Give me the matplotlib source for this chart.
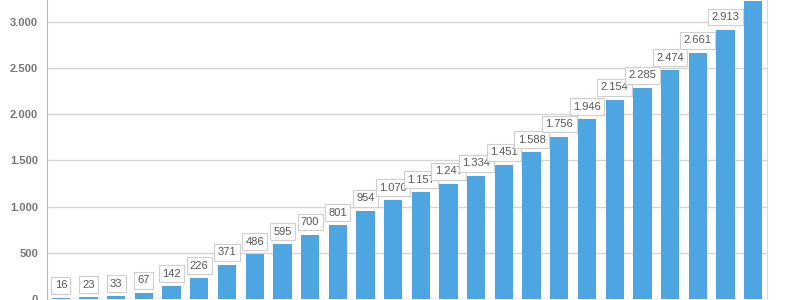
import matplotlib.pyplot as plt
from matplotlib.ticker import FuncFormatter

# Cumulative counts per period (last bar is cut off at the top of the picture).
values = [16, 23, 33, 67, 142, 226, 371, 486, 595, 700, 801, 954, 1070, 1157,
          1247, 1334, 1451, 1588, 1756, 1946, 2154, 2285, 2474, 2661, 2913, 3221]
categories = list(range(len(values)))
y_ticks = [0, 500, 1000, 1500, 2000, 2500, 3000]

BAR = "#4da5e2"
GRID = "#d4d4d4"
TXT = "#595959"

plt.rcParams["font.family"] = ["Liberation Sans", "DejaVu Sans"]


def dotted(v, _pos=None):
    return f"{int(v):,}".replace(",", ".")


fig = plt.figure(figsize=(7.87, 3.0), dpi=100)
ax = fig.add_axes([47 / 787, 0.7 / 300, 720 / 787, 299.3 / 300])

bars = ax.bar(categories, values, width=0.66, color=BAR, zorder=2)

ax.set_xlim(-0.5, len(values) - 0.5)
ax.set_ylim(0, 3234)
ax.set_yticks(y_ticks)
ax.yaxis.set_major_formatter(FuncFormatter(dotted))
ax.set_xticks([])
ax.grid(axis="y", color=GRID, lw=1.0, zorder=0)
ax.tick_params(axis="y", length=0, pad=6.5, labelsize=8, labelcolor="#777777")
for t in ax.get_yticklabels():
    t.set_fontweight("bold")

for side in ("top", "bottom"):
    ax.spines[side].set_visible(False)
ax.spines["left"].set_color("#b8b8b8")
ax.spines["right"].set_color("#dcdcdc")

# the last bar's label sits above the cropped top edge, so it is left out
labels = [dotted(v) for v in values[:-1]] + [""]
ax.bar_label(bars, labels=labels, padding=5.5,
             fontsize=8, color=TXT, zorder=3,
             bbox=dict(boxstyle="square,pad=0.3", facecolor="white",
                       edgecolor="#cfcfcf", lw=0.8))

fig.savefig("out.png", dpi=100)
